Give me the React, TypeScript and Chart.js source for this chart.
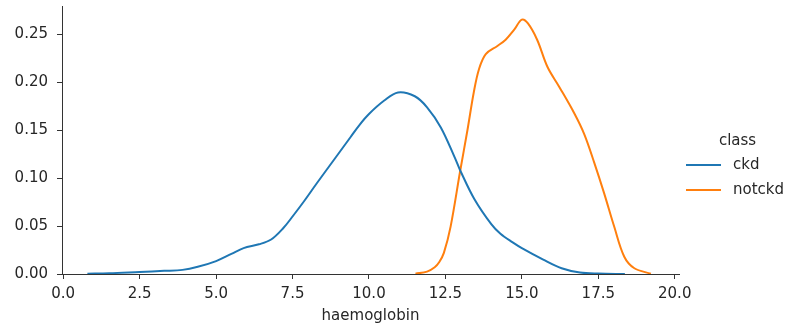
import React, { useEffect, useRef } from "react";
import { Chart, registerables } from "chart.js";

Chart.register(...registerables);

const seriesNames = ["ckd", "notckd"];
const seriesColors = ["#1f77b4", "#ff7f0e"];

const ckdX = [0.79, 1.5, 2.5, 3.3, 3.9, 4.4, 5.0, 5.5, 5.9, 6.4, 6.8, 7.2, 7.5, 7.9, 8.3, 8.85, 9.4, 9.7, 10.0, 10.5, 10.95, 11.5, 11.9, 12.35, 12.8, 13.0, 13.45, 14.0, 14.3, 14.7, 15.0, 15.7, 16.3, 16.9, 17.5, 18.37];
const ckdY = [0.0003, 0.0008, 0.0022, 0.0033, 0.0043, 0.0075, 0.0135, 0.021, 0.027, 0.031, 0.036, 0.048, 0.06, 0.077, 0.095, 0.119, 0.143, 0.156, 0.167, 0.181, 0.1895, 0.1855, 0.174, 0.153, 0.122, 0.107, 0.078, 0.052, 0.042, 0.033, 0.027, 0.015, 0.006, 0.0015, 0.0004, 0.0];

const notckdX = [11.52, 11.9, 12.15, 12.3, 12.45, 12.67, 12.98, 13.22, 13.43, 13.6, 13.82, 14.2, 14.47, 14.75, 15.0, 15.2, 15.5, 15.84, 16.22, 16.71, 17.04, 17.37, 17.69, 18.02, 18.35, 18.68, 19.22];
const notckdY = [0.0003, 0.0025, 0.007, 0.0125, 0.022, 0.0495, 0.107, 0.15, 0.19, 0.214, 0.2295, 0.238, 0.2445, 0.255, 0.2655, 0.2615, 0.2445, 0.216, 0.1955, 0.168, 0.146, 0.116, 0.0844, 0.0495, 0.018, 0.006, 0.0003];

const xTicks = [0, 2.5, 5, 7.5, 10, 12.5, 15, 17.5, 20];
const yTicks = [0, 0.05, 0.1, 0.15, 0.2, 0.25];
const xTitle = "haemoglobin";
const legendTitle = "class";

const FONT = "DejaVu Sans";
const FS = 15;
const TEXT = "#262626";
const AXIS = "#333333";

export default function App() {
  const ref = useRef<HTMLCanvasElement | null>(null);
  useEffect(() => {
    if (!ref.current) return;
    const toPts = (xs: number[], ys: number[]) => xs.map((x, i) => ({ x, y: ys[i] }));
    const legendPlugin = {
      id: "customLegend",
      afterDraw(chart: any) {
        const ctx = chart.ctx;
        ctx.save();
        ctx.font = `${FS}px "${FONT}"`;
        ctx.fillStyle = TEXT;
        ctx.textBaseline = "middle";
        ctx.textAlign = "center";
        ctx.fillText(legendTitle, 737.5, 141);
        ctx.textAlign = "left";
        seriesNames.forEach((name, i) => {
          const y = 165 + i * 25;
          ctx.strokeStyle = seriesColors[i];
          ctx.lineWidth = 2;
          ctx.beginPath();
          ctx.moveTo(686, y);
          ctx.lineTo(721, y);
          ctx.stroke();
          ctx.fillStyle = TEXT;
          ctx.fillText(name, 733, y);
        });
        ctx.restore();
      },
    };
    const lineStyle = { borderWidth: 2, pointRadius: 0, tension: 0.35, fill: false };
    const chart = new Chart(ref.current, {
      type: "line",
      data: {
        datasets: [
          { label: seriesNames[0], data: toPts(ckdX, ckdY), borderColor: seriesColors[0], ...lineStyle },
          { label: seriesNames[1], data: toPts(notckdX, notckdY), borderColor: seriesColors[1], ...lineStyle },
        ],
      },
      options: {
        animation: false,
        responsive: false,
        devicePixelRatio: 1,
        layout: { padding: { left: 0, top: 6, right: 109, bottom: 0 } },
        plugins: { legend: { display: false }, tooltip: { enabled: false } },
        scales: {
          x: {
            type: "linear",
            min: -0.04,
            max: 20.14,
            afterBuildTicks: (s: any) => {
              s.ticks = xTicks.map((v) => ({ value: v }));
            },
            afterFit: (s: any) => {
              s.height = 55;
              s.paddingLeft = 0;
              s.paddingRight = 0;
            },
            ticks: {
              color: TEXT,
              font: { family: FONT, size: FS },
              padding: 6,
              maxRotation: 0,
              autoSkip: false,
              callback: (v: any) => Number(v).toFixed(1),
            },
            grid: { drawOnChartArea: false, drawTicks: true, tickLength: 5, tickColor: AXIS, tickWidth: 1 },
            border: { display: true, color: AXIS, width: 1 },
            title: {
              display: true,
              text: xTitle,
              color: TEXT,
              font: { family: FONT, size: FS },
              padding: { top: 0, bottom: 4 },
            },
          },
          y: {
            type: "linear",
            min: 0,
            max: 0.2797,
            afterBuildTicks: (s: any) => {
              s.ticks = yTicks.map((v) => ({ value: v }));
            },
            afterFit: (s: any) => {
              s.width = 62;
              s.paddingTop = 0;
              s.paddingBottom = 0;
            },
            ticks: {
              color: TEXT,
              font: { family: FONT, size: FS },
              padding: 9,
              autoSkip: false,
              callback: (v: any) => Number(v).toFixed(2),
            },
            grid: { drawOnChartArea: false, drawTicks: true, tickLength: 5, tickColor: AXIS, tickWidth: 1 },
            border: { display: true, color: AXIS, width: 1 },
          },
        },
      },
      plugins: [legendPlugin],
    } as any);
    return () => chart.destroy();
  }, []);
  return (
    <div style={{ position: "absolute", left: 0, top: 0, width: 788, height: 329, background: "#fff" }}>
      <canvas ref={ref} width={788} height={329} style={{ width: 788, height: 329, display: "block" }} />
    </div>
  );
}
